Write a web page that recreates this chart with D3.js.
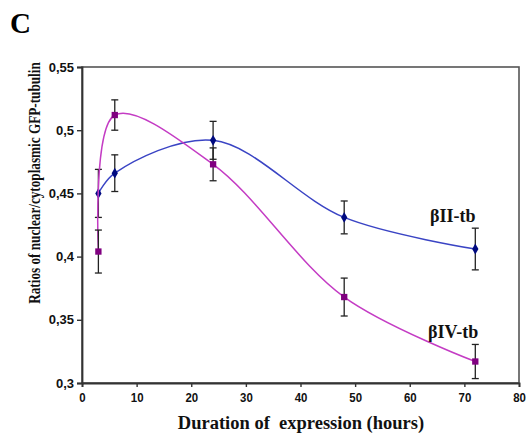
<!DOCTYPE html>
<html>
<head>
<meta charset="utf-8">
<script src="https://cdn.jsdelivr.net/npm/d3@7"></script>
<style>
  body { margin: 0; background: #fff; }
  svg { display: block; }
  .serif { font-family: "Liberation Serif", "DejaVu Serif", serif; font-weight: bold; }
  .tick text { font-family: "Liberation Sans", Arial, sans-serif; font-weight: bold; font-size: 13px; fill: #111; }
</style>
</head>
<body>
<svg id="chart" width="526" height="440"></svg>
<script>
// ---- données ----
const hours = [3, 6, 24, 48, 72];
const betaII = [0.450, 0.466, 0.492, 0.431, 0.406];
const betaIIErr = [0.019, 0.0145, 0.015, 0.013, 0.0165];
const betaIV = [0.404, 0.512, 0.473, 0.368, 0.317];
const betaIVErr = [0.017, 0.012, 0.013, 0.015, 0.0135];
const xTicks = [0, 10, 20, 30, 40, 50, 60, 70, 80];
const yTicks = [0.3, 0.35, 0.4, 0.45, 0.5, 0.55];

const svg = d3.select("#chart");
const plot = { left: 82, right: 519, top: 67, bottom: 383 };

const x = d3.scaleLinear().domain([0, 80]).range([plot.left, plot.right]);
const y = d3.scaleLinear().domain([0.3, 0.55]).range([plot.bottom, plot.top]);
const fmt = d => String(+d.toFixed(2)).replace(".", ",");

// cadre de la zone de tracé
svg.append("rect")
    .attr("x", plot.left).attr("y", plot.top)
    .attr("width", plot.right - plot.left)
    .attr("height", plot.bottom - plot.top)
    .attr("fill", "none")
    .attr("stroke", "#555")
    .attr("stroke-width", 1.6);

// axes
const xAxis = svg.append("g")
    .attr("transform", `translate(0,${plot.bottom})`)
    .call(d3.axisBottom(x).tickValues(xTicks).tickSize(4).tickPadding(6).tickFormat(d3.format("d")));
const yAxis = svg.append("g")
    .attr("transform", `translate(${plot.left},0)`)
    .call(d3.axisLeft(y).tickValues(yTicks).tickSize(5).tickPadding(3).tickFormat(fmt));
[xAxis, yAxis].forEach(g => {
    g.select(".domain").attr("stroke", "#333").attr("stroke-width", 1.8);
    g.selectAll(".tick line").attr("stroke", "#333").attr("stroke-width", 1.4);
});
// chiffres un peu étroits comme sur l'original
xAxis.selectAll(".tick text").attr("transform", "scale(0.88,1)");

/**
 * Dessine une série : courbe lissée, barres d'erreur et marqueurs
 */
function drawSeries(values, errors, lineColor, markColor, symbol) {
    const pts = hours.map((h, i) => ({ h, v: values[i], e: errors[i] }));

    svg.append("path")
        .datum(pts)
        .attr("fill", "none")
        .attr("stroke", lineColor)
        .attr("stroke-width", 1.5)
        .attr("d", d3.line().x(d => x(d.h)).y(d => y(d.v)).curve(d3.curveCatmullRom.alpha(0.5)));

    const bars = svg.append("g").attr("stroke", "#222").attr("stroke-width", 1.3);
    pts.forEach(d => {
        bars.append("line").attr("x1", x(d.h)).attr("x2", x(d.h))
            .attr("y1", y(d.v - d.e)).attr("y2", y(d.v + d.e));
        [d.v - d.e, d.v + d.e].forEach(v => {
            bars.append("line").attr("x1", x(d.h) - 3.5).attr("x2", x(d.h) + 3.5)
                .attr("y1", y(v)).attr("y2", y(v));
        });
    });

    svg.append("g").selectAll("path")
        .data(pts)
        .join("path")
        .attr("transform", d => `translate(${x(d.h)},${y(d.v)})`)
        .attr("d", d3.symbol().type(symbol).size(symbol === d3.symbolSquare ? 40 : 34))
        .attr("fill", markColor);
}

drawSeries(betaII, betaIIErr, "#3a44c4", "#000a80", d3.symbolDiamond);
drawSeries(betaIV, betaIVErr, "#c43cc4", "#800080", d3.symbolSquare);

// étiquettes des séries
svg.append("text").attr("class", "serif")
    .attr("x", 430).attr("y", 222).attr("font-size", 18).attr("fill", "#111")
    .text("βII-tb");
svg.append("text").attr("class", "serif")
    .attr("x", 428).attr("y", 338).attr("font-size", 18).attr("fill", "#111")
    .text("βIV-tb");

// titres
svg.append("text").attr("class", "serif")
    .attr("x", 10).attr("y", 33).attr("font-size", 29).attr("fill", "#000")
    .text("C");
svg.append("text").attr("class", "serif")
    .attr("x", 301).attr("y", 429).attr("font-size", 18.5).attr("fill", "#111")
    .attr("text-anchor", "middle")
    .style("white-space", "pre")
    .text("Duration of  expression (hours)");
svg.append("text").attr("class", "serif")
    .attr("transform", "translate(40,183) rotate(-90) scale(0.8,1)")
    .attr("font-size", 16.5).attr("fill", "#111")
    .attr("text-anchor", "middle")
    .text("Ratios of nuclear/cytoplasmic GFP-tubulin");
</script>
</body>
</html>
